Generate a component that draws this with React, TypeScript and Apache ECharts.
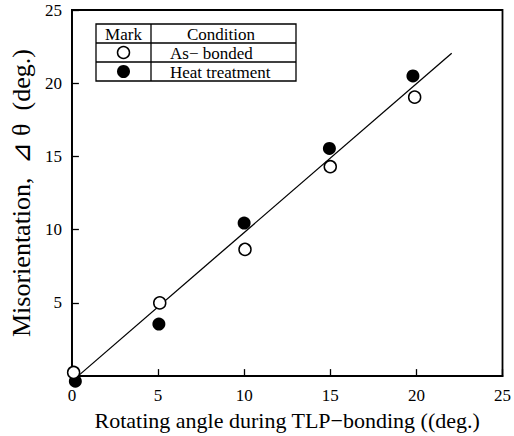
import React, { useEffect, useRef } from "react";
import * as echarts from "echarts";

const xTicks = [0, 5, 10, 15, 20, 25];
const yTicks = [0, 5, 10, 15, 20, 25];
// As-bonded (open circles)
const asBonded: [number, number][] = [
  [0.1, 0.25],
  [5.1, 5.0],
  [10.05, 8.65],
  [15.0, 14.3],
  [19.9, 19.05],
];
// Heat treatment (filled circles)
const heatTreatment: [number, number][] = [
  [0.2, -0.35],
  [5.05, 3.55],
  [10.0, 10.45],
  [14.95, 15.55],
  [19.8, 20.5],
];
// regression line end points
const fitLine: [number, number][] = [
  [0.4, 0.05],
  [22.05, 22.05],
];
const legendHeader = ["Mark", "Condition"];
const legendRows = ["As\u2212 bonded", "Heat treatment"];

const FONT = "Liberation Serif";

export default function App() {
  const ref = useRef<HTMLDivElement>(null);
  useEffect(() => {
    if (!ref.current) return;
    const chart = echarts.init(ref.current, null, { renderer: "svg" });
    const tx = 96, ty = 24, tw = 200, rh = 19, cx = 151;
    const mx = (tx + cx) / 2;
    const graphics: any[] = [
      { type: "rect", shape: { x: tx, y: ty, width: tw, height: rh * 3 }, style: { fill: "#fff", stroke: "#000", lineWidth: 1.3 }, z: 10 },
      { type: "line", shape: { x1: tx, y1: ty + rh, x2: tx + tw, y2: ty + rh }, style: { stroke: "#000", lineWidth: 1.3 }, z: 11 },
      { type: "line", shape: { x1: tx, y1: ty + 2 * rh, x2: tx + tw, y2: ty + 2 * rh }, style: { stroke: "#000", lineWidth: 1.3 }, z: 11 },
      { type: "line", shape: { x1: cx, y1: ty, x2: cx, y2: ty + 3 * rh }, style: { stroke: "#000", lineWidth: 1.3 }, z: 11 },
      { type: "text", x: mx, y: ty + rh / 2 + 1, style: { text: legendHeader[0], fill: "#000", fontFamily: FONT, fontSize: 17, align: "center", verticalAlign: "middle" }, z: 12 },
      { type: "text", x: 221, y: ty + rh / 2 + 1, style: { text: legendHeader[1], fill: "#000", fontFamily: FONT, fontSize: 17, align: "center", verticalAlign: "middle" }, z: 12 },
      { type: "circle", shape: { cx: mx, cy: ty + rh * 1.5, r: 6 }, style: { fill: "#fff", stroke: "#000", lineWidth: 1.5 }, z: 12 },
      { type: "circle", shape: { cx: mx, cy: ty + rh * 2.5, r: 6.5 }, style: { fill: "#000" }, z: 12 },
      { type: "text", x: 170, y: ty + rh * 1.5 + 1, style: { text: legendRows[0], fill: "#000", fontFamily: FONT, fontSize: 17, align: "left", verticalAlign: "middle" }, z: 12 },
      { type: "text", x: 170, y: ty + rh * 2.5 + 1, style: { text: legendRows[1], fill: "#000", fontFamily: FONT, fontSize: 17, align: "left", verticalAlign: "middle" }, z: 12 },
    ];
    chart.setOption({
      animation: false,
      backgroundColor: "#fff",
      textStyle: { fontFamily: FONT, color: "#000" },
      grid: { left: 67, right: 9, top: 10, bottom: 58, show: true, borderColor: "#000", borderWidth: 1.8, backgroundColor: "transparent" },
      xAxis: {
        type: "value",
        min: 0,
        max: 25,
        interval: 5,
        name: "Rotating angle during TLP\u2212bonding ((deg.)",
        nameLocation: "middle",
        nameGap: 30,
        nameTextStyle: { fontFamily: FONT, fontSize: 22, color: "#000" },
        axisLine: { show: true, lineStyle: { color: "#000", width: 1.8 } },
        axisTick: { show: true, inside: true, length: 7, lineStyle: { color: "#000", width: 1.3 } },
        axisLabel: { fontFamily: FONT, fontSize: 17, color: "#000", margin: 11, formatter: (v: number) => (xTicks.includes(v) ? String(v) : "") },
        splitLine: { show: false },
      },
      yAxis: {
        type: "value",
        min: 0,
        max: 25,
        interval: 5,
        name: "Misorientation,  \u22BF \u03B8  (deg.)",
        nameLocation: "middle",
        nameGap: 30,
        nameTextStyle: { fontFamily: FONT, fontSize: 26, color: "#000" },
        axisLine: { show: true, lineStyle: { color: "#000", width: 1.8 } },
        axisTick: { show: true, inside: true, length: 7, lineStyle: { color: "#000", width: 1.3 } },
        axisLabel: { fontFamily: FONT, fontSize: 17, color: "#000", margin: 10, formatter: (v: number) => (v === 0 || !yTicks.includes(v) ? "" : String(v)) },
        splitLine: { show: false },
      },
      graphic: graphics,
      series: [
        {
          type: "line",
          data: fitLine,
          symbol: "none",
          lineStyle: { color: "#000", width: 1.3 },
          z: 2,
        },
        {
          type: "scatter",
          name: "Heat treatment",
          data: heatTreatment,
          symbol: "circle",
          symbolSize: 13,
          itemStyle: { color: "#000", opacity: 1 },
          clip: false,
          z: 3,
        },
        {
          type: "scatter",
          name: "As- bonded",
          data: asBonded,
          symbol: "circle",
          symbolSize: 12,
          itemStyle: { color: "#fff", borderColor: "#000", borderWidth: 1.5, opacity: 1 },
          clip: false,
          z: 4,
        },
      ],
    });
    return () => chart.dispose();
  }, []);
  return <div ref={ref} style={{ width: 514, height: 436, position: "absolute", left: 0, top: 0 }} />;
}
